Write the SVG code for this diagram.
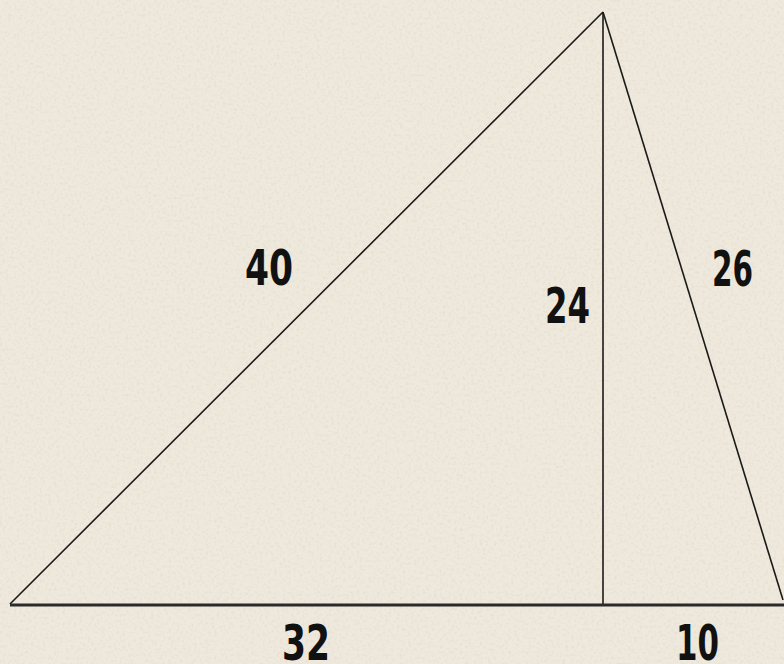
<svg xmlns="http://www.w3.org/2000/svg" width="784" height="664" viewBox="0 0 784 664">
<style>
.lbl{font-family:"DejaVu Sans Condensed","DejaVu Sans",sans-serif;font-weight:bold;font-size:50px;fill:#111}
.edge{stroke:#1a1a1a;stroke-width:1.6;fill:none}
.base{stroke:#2a2a2a;stroke-width:3;fill:none}
</style>
<defs>
<filter id="tex" x="0" y="0" width="100%" height="100%">
<feTurbulence type="fractalNoise" baseFrequency="0.35" numOctaves="2" seed="3" result="n"/>
<feColorMatrix in="n" type="matrix" values="0 0 0 0 0.55  0 0 0 0 0.5  0 0 0 0 0.4  0 0 0 -1.4 0.75" result="m"/>
<feComposite in="m" in2="SourceGraphic" operator="in"/>
</filter>
</defs>
<rect width="784" height="664" fill="#eee9dc"/>
<rect width="784" height="664" fill="#eee9dc" filter="url(#tex)" opacity="0.35"/>
<g id="connectors">
<line class="edge" x1="10" y1="604" x2="603" y2="12"/>
<line class="edge" x1="603" y1="12" x2="783" y2="600"/>
<line class="edge" x1="603" y1="12" x2="603" y2="605"/>
<line class="base" x1="10" y1="605" x2="784" y2="605"/>
</g>
<g id="labels">
<text class="lbl" x="245" y="285" textLength="48" lengthAdjust="spacingAndGlyphs">40</text>
<text class="lbl" x="545" y="323" textLength="45" lengthAdjust="spacingAndGlyphs">24</text>
<text class="lbl" x="712" y="286" textLength="41" lengthAdjust="spacingAndGlyphs">26</text>
<text class="lbl" x="282" y="660" textLength="48" lengthAdjust="spacingAndGlyphs">32</text>
<text class="lbl" x="676" y="660" textLength="43" lengthAdjust="spacingAndGlyphs">10</text>
</g>
</svg>
